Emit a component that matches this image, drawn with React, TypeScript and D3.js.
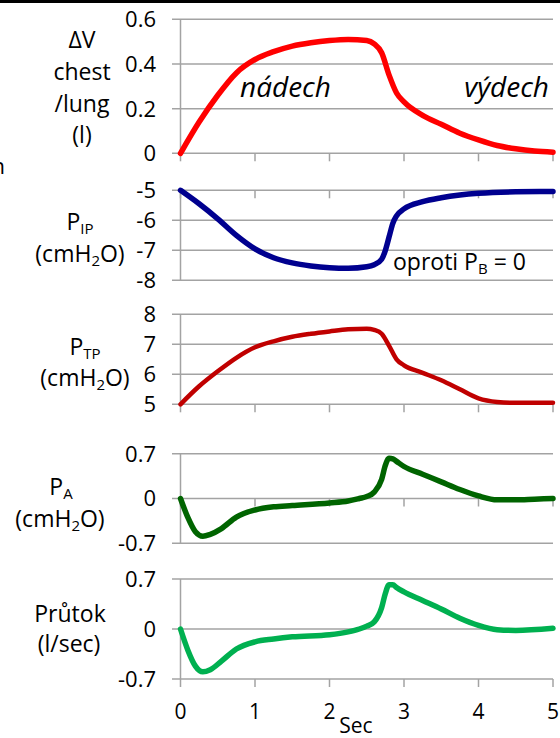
import React, { useRef, useEffect } from "react";
import * as d3 from "d3";

// time axis
const xTicks = [0, 1, 2, 3, 4, 5];

// ΔV chest/lung (l)
const volT = [0, 0.25, 0.5, 0.75, 1, 1.25, 1.5, 1.75, 2, 2.25, 2.5, 2.6, 2.7, 2.8, 2.9, 3, 3.25, 3.5, 3.75, 4, 4.25, 4.5, 4.75, 5];
const volV = [0, 0.14, 0.26, 0.36, 0.42, 0.455, 0.48, 0.495, 0.505, 0.51, 0.505, 0.49, 0.45, 0.35, 0.27, 0.23, 0.17, 0.13, 0.09, 0.06, 0.035, 0.02, 0.01, 0.005];
const volTicks = [0, 0.2, 0.4, 0.6];

// P_IP (cmH2O)
const pipT = [0, 0.25, 0.5, 0.75, 1, 1.25, 1.5, 1.75, 2, 2.25, 2.5, 2.6, 2.7, 2.75, 2.8, 2.85, 2.9, 3, 3.25, 3.5, 3.75, 4, 4.5, 5];
const pipV = [-5, -5.45, -5.95, -6.5, -6.95, -7.25, -7.42, -7.52, -7.58, -7.6, -7.55, -7.48, -7.3, -7.0, -6.55, -6.1, -5.85, -5.62, -5.38, -5.25, -5.16, -5.1, -5.05, -5.04];
const pipTicks = [-8, -7, -6, -5];

// P_TP (cmH2O)
const ptpT = [0, 0.25, 0.5, 0.75, 1, 1.25, 1.5, 1.75, 2, 2.25, 2.5, 2.6, 2.7, 2.8, 2.9, 3, 3.25, 3.5, 3.75, 4, 4.25, 4.5, 5];
const ptpV = [5, 5.6, 6.1, 6.55, 6.9, 7.1, 7.25, 7.35, 7.43, 7.5, 7.52, 7.48, 7.35, 6.95, 6.5, 6.3, 6.05, 5.8, 5.5, 5.2, 5.08, 5.05, 5.05];
const ptpTicks = [5, 6, 7, 8];

// P_A (cmH2O)
const paT = [0, 0.1, 0.2, 0.3, 0.4, 0.55, 0.75, 1, 1.25, 1.5, 2, 2.25, 2.4, 2.5, 2.6, 2.7, 2.75, 2.8, 2.85, 2.9, 3, 3.25, 3.5, 3.75, 4, 4.25, 4.5, 4.75, 5];
const paV = [0, -0.3, -0.52, -0.59, -0.56, -0.47, -0.29, -0.18, -0.13, -0.11, -0.07, -0.04, 0, 0.03, 0.1, 0.3, 0.52, 0.63, 0.62, 0.58, 0.5, 0.38, 0.26, 0.14, 0.04, -0.02, -0.02, -0.01, 0];
const paTicks = [-0.7, 0, 0.7];

// Průtok (l/sec)
const flowT = [0, 0.1, 0.2, 0.3, 0.4, 0.55, 0.75, 1, 1.25, 1.5, 2, 2.25, 2.4, 2.5, 2.6, 2.7, 2.75, 2.8, 2.85, 2.9, 3, 3.25, 3.5, 3.75, 4, 4.25, 4.5, 5];
const flowV = [0, -0.3, -0.52, -0.6, -0.57, -0.45, -0.28, -0.18, -0.14, -0.11, -0.08, -0.04, 0, 0.04, 0.1, 0.3, 0.5, 0.62, 0.62, 0.58, 0.52, 0.4, 0.28, 0.15, 0.05, -0.01, -0.02, 0.01];
const flowTicks = [-0.7, 0, 0.7];

const FONT = "'Open Sans', sans-serif";

const App = () => {
  const ref = useRef(null);

  useEffect(() => {
    const svg = d3.select(ref.current);
    svg.selectAll("*").remove();
    svg.attr("width", 560).attr("height", 738).style("font-family", FONT);

    const x = d3.scaleLinear().domain([0, 5]).range([180.5, 553]);
    const grid = "#a3a3a3";

    const panels = [
      { t: volT, v: volV, ticks: volTicks, range: [153.3, 19.3], axisAt: 0, color: "#ff0000", w: 5.5 },
      { t: pipT, v: pipV, ticks: pipTicks, range: [280.3, 190.3], axisAt: -5, color: "#00008f", w: 5.5 },
      { t: ptpT, v: ptpV, ticks: ptpTicks, range: [404.3, 314.3], axisAt: 5, color: "#c00000", w: 4.5 },
      { t: paT, v: paV, ticks: paTicks, range: [543.3, 453.7], axisAt: 0, color: "#006400", w: 5.5 },
      { t: flowT, v: flowV, ticks: flowTicks, range: [679, 579], axisAt: -0.7, color: "#00b050", w: 5.5 },
    ];

    svg.append("rect").attr("x", 0).attr("y", 0).attr("width", 560).attr("height", 3).attr("fill", "#000");

    panels.forEach((p) => {
      const y = d3.scaleLinear().domain(d3.extent(p.ticks)).range(p.range);
      const g = svg.append("g");

      // gridlines + left ticks
      p.ticks.forEach((tk) => {
        g.append("line")
          .attr("x1", 172).attr("x2", x(5))
          .attr("y1", y(tk)).attr("y2", y(tk))
          .attr("stroke", grid).attr("stroke-width", 1.5);
        g.append("text")
          .attr("x", 156).attr("y", y(tk)).attr("dy", "0.36em")
          .attr("text-anchor", "end").attr("font-size", 22)
          .text(String(tk));
      });
      // vertical axis
      g.append("line")
        .attr("x1", x(0)).attr("x2", x(0))
        .attr("y1", y(d3.max(p.ticks))).attr("y2", y(d3.min(p.ticks)))
        .attr("stroke", grid).attr("stroke-width", 1.5);
      // x ticks on the crossing axis
      xTicks.forEach((tk) => {
        g.append("line")
          .attr("x1", x(tk)).attr("x2", x(tk))
          .attr("y1", y(p.axisAt)).attr("y2", y(p.axisAt) + 8)
          .attr("stroke", grid).attr("stroke-width", 1.5);
      });

      const line = d3.line()
        .x((d) => x(d[0]))
        .y((d) => y(d[1]))
        .curve(d3.curveMonotoneX);
      g.append("path")
        .datum(p.t.map((t, i) => [t, p.v[i]]))
        .attr("d", line)
        .attr("fill", "none")
        .attr("stroke", p.color)
        .attr("stroke-width", p.w)
        .attr("stroke-linecap", "round")
        .attr("stroke-linejoin", "round");
    });

    // x tick labels
    xTicks.forEach((tk) => {
      svg.append("text")
        .attr("x", x(tk)).attr("y", 719)
        .attr("text-anchor", "middle").attr("font-size", 21)
        .text(String(tk));
    });
    svg.append("text")
      .attr("x", 356).attr("y", 733)
      .attr("text-anchor", "middle").attr("font-size", 21)
      .text("Sec");

    // left labels: [x, baseline, parts]
    const labels = [
      [82, 48, [["ΔV"]]],
      [82, 80, [["chest"]]],
      [82, 112, [["/lung"]]],
      [82, 143, [["(l)"]]],
      [80, 230, [["P"], ["IP", true]]],
      [80, 262, [["(cmH"], ["2", true], ["O)"]]],
      [85, 355, [["P"], ["TP", true]]],
      [85, 386, [["(cmH"], ["2", true], ["O)"]]],
      [61, 495, [["P"], ["A", true]]],
      [60, 527, [["(cmH"], ["2", true], ["O)"]]],
      [70, 622, [["Průtok"]]],
      [69, 652, [["(l/sec)"]]],
    ];
    labels.forEach(([lx, ly, parts]) => {
      const t = svg.append("text")
        .attr("x", lx).attr("y", ly)
        .attr("text-anchor", "middle").attr("font-size", 23);
      let shifted = false;
      parts.forEach(([s, sub]) => {
        const ts = t.append("tspan").text(s);
        if (sub) {
          ts.attr("font-size", 15).attr("dy", 4);
          shifted = true;
        } else if (shifted) {
          ts.attr("dy", -4);
          shifted = false;
        }
      });
    });

    // annotations
    svg.append("text")
      .attr("x", 240).attr("y", 97)
      .attr("font-size", 28).attr("font-style", "italic")
      .text("nádech");
    svg.append("text")
      .attr("x", 549).attr("y", 97)
      .attr("text-anchor", "end")
      .attr("font-size", 28).attr("font-style", "italic")
      .text("výdech");
    const op = svg.append("text")
      .attr("x", 393).attr("y", 270).attr("font-size", 23);
    op.append("tspan").text("oproti P");
    op.append("tspan").attr("font-size", 15).attr("dy", 4).text("B");
    op.append("tspan").attr("dy", -4).text(" = 0");

    // cut-off text at the left edge
    svg.append("text")
      .attr("x", 5).attr("y", 174)
      .attr("text-anchor", "end").attr("font-size", 22)
      .text("n");
  }, []);

  return (
    <svg ref={ref} style={{ position: "absolute", left: 0, top: 0, display: "block" }} />
  );
};

export default App;
